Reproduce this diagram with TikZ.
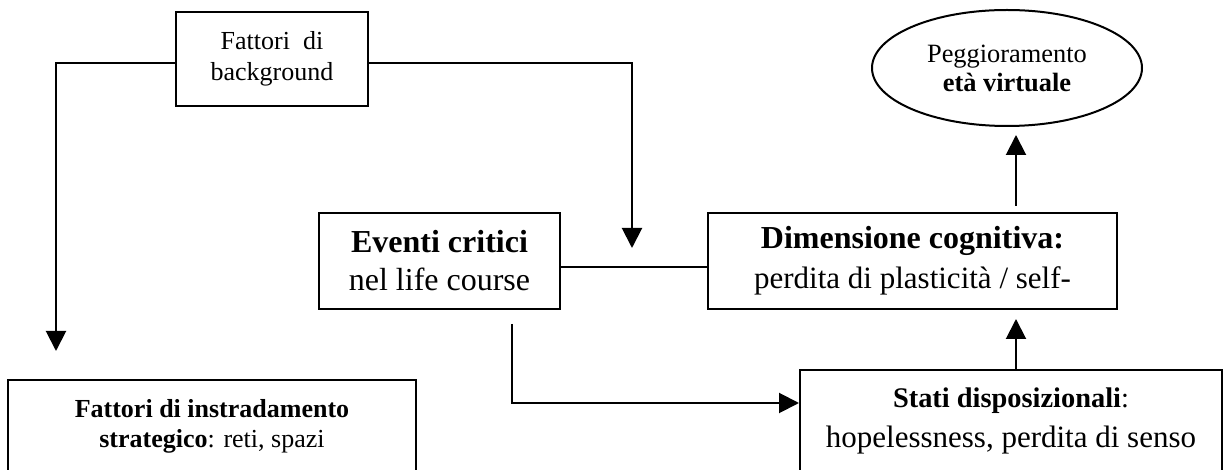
\documentclass[tikz,border=0pt]{standalone}
\usepackage{fontspec}
\setmainfont{Liberation Serif}
\usetikzlibrary{arrows.meta,shapes.geometric}
\begin{document}
\begin{tikzpicture}[x=0.5pt,y=-0.5pt,
  box/.style={draw, line width=1pt, rectangle, align=center, inner sep=0pt},
  oval/.style={draw, line width=1pt, ellipse, align=center, inner sep=0pt},
  arr/.style={line width=1pt, -{Triangle[length=10pt,width=10pt]}},
  conn/.style={line width=1pt}]
\useasboundingbox (0,0) rectangle (1223,470);
\clip (0,0) rectangle (1223,470);
% nodes
\node[box, minimum width=96pt, minimum height=47pt, font=\fontsize{13}{15.5}\selectfont] (bg) at (272,59) {Fattori\ \ di\\background};
\node[oval, minimum width=135pt, minimum height=58pt, font=\fontsize{13.2}{14.5}\selectfont] (ell) at (1007,68) {Peggioramento\\\textbf{età virtuale}};
\node[box, minimum width=120.5pt, minimum height=48pt, font=\fontsize{16}{19}\selectfont] (ev) at (439.5,261) {\textbf{Eventi critici}\\nel life course};
\node[box, minimum width=204.5pt, minimum height=48pt, font=\fontsize{15.5}{20}\selectfont] (dim) at (912.5,261) {{\fontsize{16}{20}\selectfont\textbf{Dimensione cognitiva:}}\\perdita di plasticità / self-};
\node[box, anchor=north, minimum width=211pt, text height=39pt, text depth=20pt, font=\fontsize{15.5}{20}\selectfont] (stati) at (1011,369) {{\fontsize{14.2}{20}\selectfont\textbf{Stati disposizionali}:}\\hopelessness, perdita di senso};
\node[box, anchor=north, minimum width=204pt, text height=34pt, text depth=20pt, font=\fontsize{13}{15}\selectfont] (instr) at (212,379) {\textbf{Fattori di instradamento}\\\textbf{strategico}: reti, spazi};
% free ends
\coordinate (tipA) at (56,351);
\coordinate (tipB) at (632,248);
\coordinate (tipC) at (1016,319);
\coordinate (tipD) at (1016,135);
\coordinate (evOut) at (512,324);
\path (dim.north -| tipD) ++(0,-6) coordinate (dimOut);
% connectors
\draw[arr] ([yshift=-2pt]bg.west) -| (tipA);
\draw[arr] ([yshift=-2pt]bg.east) -| (tipB);
\draw[conn] ([yshift=-3pt]ev.east) -- ([yshift=-3pt]dim.west);
\draw[arr] (evOut) |- ([yshift=-17pt]stati.north west);
\draw[arr] (stati.north -| tipC) -- (tipC);
\draw[arr] (dimOut) -- (tipD);
\end{tikzpicture}
\end{document}
